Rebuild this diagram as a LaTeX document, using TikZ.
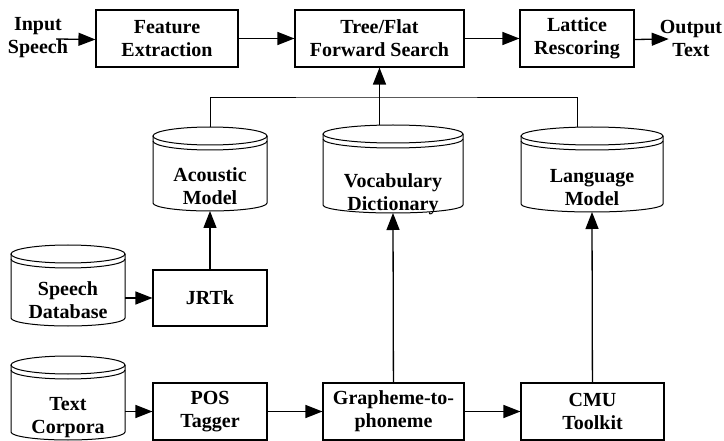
\documentclass[tikz,border=0pt]{standalone}
\usepackage{fontspec}
\setmainfont{Liberation Serif}
\usepackage{tikz}
\usetikzlibrary{arrows.meta}
\tikzset{box/.style = {draw, line width=1.1pt, align=center, inner sep=0,
                       minimum height=57, font=\fontsize{20}{23}\selectfont\bfseries}}
\tikzset{txt/.style = {align=center, inner sep=0, font=\fontsize{20}{23}\selectfont\bfseries}}
\tikzset{dbline/.style = {line width=1pt}}
\tikzset{arr/.style = {-{Triangle[length=17pt, width=13pt]}, line width=1.3pt}}
\tikzset{busline/.style = {line width=0.9pt}}

% database cylinder: name, x, top, width, height, text y, text
\newcommand\dbase[7]{%
  \draw [dbline] (#2, #3 + 9) ellipse [x radius={#4*0.5pt}, y radius=9pt];
  \draw [dbline] (#2 - #4/2, #3 + 14) arc [start angle=180, end angle=360, x radius={#4*0.5pt}, y radius=9pt];
  \draw [dbline] (#2 - #4/2, #3 + 9) -- (#2 - #4/2, #3 + #5 - 8)
    arc [start angle=180, end angle=360, x radius={#4*0.5pt}, y radius=8pt] -- (#2 + #4/2, #3 + 9);
  \coordinate (#1-top) at (#2, #3);
  \coordinate (#1-bot) at (#2, #3 + #5);
  \coordinate (#1-east) at (#2 + #4/2, #6);
  \node [txt] (#1) at (#2, #6) {#7};
}

\begin{document}
\begin{tikzpicture}[x=1pt, y=-1pt]
    \useasboundingbox (0, 0) rectangle (724, 441);

    % top row
    \node [txt] (in) at (38, 38) {Input\\Speech};
    \node [box, minimum width=142] (feat) at (167, 38.5) {Feature\\Extraction};
    \node [box, minimum width=169] (tree) at (379.5, 38.5) {Tree/Flat\\Forward Search};
    \node [box, minimum width=114] (latt) at (577, 38.5) {Lattice\\Rescoring};
    \node [txt] (out) at (691, 38) {Output\\Text};

    % models
    \dbase{acm}{210}{127}{114}{84}{186}{Acoustic\\Model}
    \dbase{voc}{393}{125}{140}{88}{194}{Vocabulary\\Dictionary}
    \dbase{lm}{592}{127}{142}{85}{188}{Language\\Model}

    % training data and tools
    \dbase{sdb}{68}{245}{114}{81}{300}{Speech\\Database}
    \dbase{tc}{68}{356}{114}{84}{418}{Text\\Corpora}
    \node [box, minimum width=114, minimum height=56] (jrtk) at (210, 298) {JRTk};
    \node [box, minimum width=114] (pos) at (210, 411.5) {POS\\Tagger};
    \node [box, minimum width=141] (g2p) at (393.5, 411.5) {Grapheme-to-\\phoneme};
    \node [box, minimum width=143] (cmu) at (592.5, 411.5) {CMU\\Toolkit};

    \draw [arr] ([xshift=-12pt, yshift=-1pt]in.east) -- ([yshift=-1pt]feat.west);
    \draw [arr] (feat) -- (tree);
    \draw [arr] (tree) -- (latt);
    \draw [arr] ([yshift=-1pt]latt.east) -- ([xshift=9pt, yshift=-1pt]out.west);

    \coordinate (bus) at (379.5, 97);
    \draw [busline] (acm-top) |- (bus) -| (latt.south |- lm-top);
    \draw [arr] (tree.south |- voc-top) -- (tree.south);

    \draw [arr] (jrtk) -- (acm-bot);
    \draw [arr] (g2p) -- (voc-bot);
    \draw [arr] (cmu) -- (lm-bot);

    \draw [arr] (sdb-east |- jrtk) -- (jrtk);
    \draw [arr] (tc-east |- pos) -- (pos);
    \draw [arr] (pos) -- (g2p);
    \draw [arr] (g2p) -- (cmu);
  \end{tikzpicture}
\end{document}
